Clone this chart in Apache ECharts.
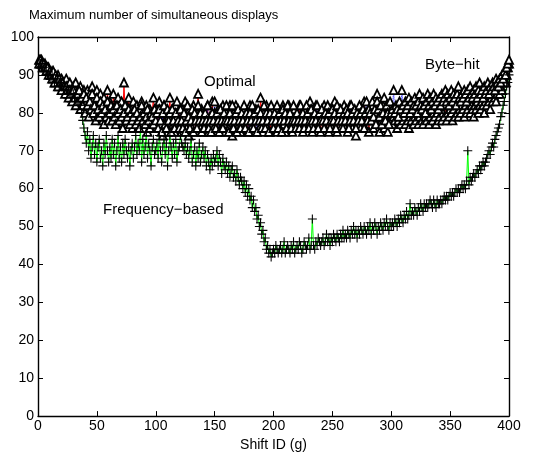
<!DOCTYPE html>
<html>
<head>
<meta charset="utf-8">
<script src="https://cdn.jsdelivr.net/npm/echarts@6/dist/echarts.min.js"></script>
<style>
html, body { margin: 0; padding: 0; background: #fff; }
#chart { width: 539px; height: 457px; }
</style>
</head>
<body>
<div id="chart"></div>
<script>
// shift ids 1..400, one value per shift in every series
var shiftIds = [];
for (var k = 1; k <= 400; k++) { shiftIds.push(k); }

var xTicks = [0, 400, 50];
var yTicks = [0, 100, 10];

var optimal = [
	94, 93, 94, 93, 92, 93, 92, 91, 92, 91, 90, 91, 89, 90, 88, 89, 90, 87, 88, 89,
	87, 88, 86, 89, 87, 85, 88, 86, 84, 87, 85, 88, 84, 86, 83, 87, 85, 82, 86, 84,
	83, 86, 81, 85, 83, 87, 80, 84, 82, 86, 79, 83, 85, 81, 78, 84, 82, 80, 86, 79,
	83, 81, 78, 85, 80, 82, 77, 84, 79, 81, 83, 78, 88, 80, 82, 77, 84, 79, 81, 76,
	83, 80, 78, 82, 76, 81, 79, 83, 77, 80, 78, 82, 75, 79, 81, 77, 80, 84, 78, 76,
	81, 76, 83, 77, 80, 74, 82, 78, 80, 75, 79, 84, 76, 81, 78, 75, 82, 79, 76, 81,
	78, 75, 81, 79, 83, 76, 78, 74, 81, 79, 76, 82, 78, 75, 80, 85, 77, 76, 81, 75,
	80, 76, 78, 82, 75, 79, 77, 83, 76, 80, 78, 75, 81, 78, 76, 80, 82, 77, 75, 80,
	78, 76, 82, 78, 74, 80, 77, 82, 76, 79, 78, 75, 80, 81, 76, 78, 80, 75, 78, 82,
	76, 80, 78, 75, 81, 78, 80, 76, 84, 78, 75, 80, 77, 82, 76, 79, 75, 78, 81, 76,
	80, 78, 75, 81, 78, 76, 80, 82, 77, 75, 80, 78, 82, 76, 78, 75, 80, 81, 77, 76,
	78, 82, 76, 80, 75, 78, 81, 78, 76, 80, 83, 77, 75, 80, 78, 82, 76, 79, 78, 75,
	80, 78, 82, 76, 80, 78, 75, 81, 79, 76, 78, 83, 79, 75, 78, 81, 76, 80, 78, 82,
	76, 80, 75, 78, 82, 78, 76, 80, 78, 74, 80, 81, 77, 76, 80, 78, 83, 76, 80, 78,
	75, 80, 78, 82, 76, 80, 78, 85, 77, 75, 80, 78, 82, 76, 80, 78, 75, 81, 78, 80,
	77, 79, 78, 80, 76, 78, 79, 77, 80, 78, 79, 77, 80, 78, 76, 79, 78, 80, 77, 79,
	78, 80, 77, 79, 81, 78, 77, 80, 79, 78, 80, 77, 79, 81, 78, 80, 79, 77, 80, 78,
	79, 81, 78, 80, 79, 82, 78, 80, 79, 81, 80, 78, 81, 79, 82, 80, 79, 81, 80, 82,
	81, 79, 82, 80, 81, 83, 80, 82, 81, 79, 82, 81, 83, 80, 82, 81, 83, 82, 80, 83,
	82, 84, 83, 81, 84, 83, 85, 84, 83, 85, 86, 85, 87, 86, 88, 89, 88, 90, 92, 93];

var byteHit = [
	93, 94, 93, 92, 93, 92, 91, 92, 90, 91, 90, 89, 91, 88, 90, 89, 87, 89, 88, 86,
	88, 87, 85, 87, 86, 84, 86, 85, 83, 86, 84, 82, 85, 83, 86, 81, 84, 82, 85, 80,
	84, 82, 79, 83, 81, 85, 80, 82, 78, 84, 81, 79, 83, 80, 82, 77, 81, 79, 83, 78,
	80, 82, 78, 81, 79, 77, 82, 80, 78, 81, 79, 76, 80, 82, 78, 79, 81, 77, 80, 78,
	79, 81, 77, 80, 78, 76, 79, 82, 78, 80, 77, 79, 81, 78, 76, 80, 79, 77, 81, 78,
	80, 76, 81, 78, 75, 80, 82, 77, 76, 81, 78, 80, 75, 81, 78, 76, 80, 83, 78, 76,
	81, 78, 76, 80, 75, 78, 82, 79, 76, 78, 81, 75, 80, 78, 76, 82, 78, 80, 75, 78,
	76, 80, 78, 82, 76, 78, 75, 80, 78, 83, 76, 80, 78, 75, 81, 78, 76, 80, 78, 82,
	78, 75, 80, 78, 82, 76, 78, 80, 75, 81, 78, 76, 80, 78, 82, 76, 80, 78, 75, 80,
	78, 82, 76, 80, 78, 75, 81, 78, 80, 76, 78, 82, 76, 80, 78, 75, 80, 82, 78, 76,
	80, 78, 82, 76, 80, 78, 75, 81, 78, 80, 76, 82, 78, 80, 76, 78, 82, 78, 76, 80,
	78, 76, 82, 78, 80, 76, 78, 82, 80, 76, 78, 81, 78, 76, 80, 78, 82, 76, 80, 78,
	81, 78, 76, 80, 78, 82, 80, 76, 78, 81, 78, 80, 76, 82, 78, 80, 81, 78, 76, 80,
	78, 81, 80, 76, 78, 82, 80, 78, 81, 76, 80, 78, 82, 80, 78, 81, 76, 80, 83, 78,
	81, 80, 78, 83, 79, 81, 77, 83, 81, 79, 82, 77, 80, 84, 78, 82, 80, 77, 83, 80,
	81, 86, 80, 82, 81, 79, 83, 81, 86, 82, 80, 83, 81, 82, 84, 80, 83, 81, 82, 84,
	82, 80, 83, 85, 82, 81, 84, 82, 80, 83, 85, 82, 84, 81, 83, 85, 82, 84, 83, 81,
	84, 82, 85, 83, 84, 86, 83, 85, 82, 84, 86, 83, 85, 84, 82, 85, 87, 84, 83, 85,
	84, 86, 85, 83, 86, 84, 87, 85, 84, 86, 85, 87, 84, 86, 88, 85, 86, 84, 87, 85,
	86, 88, 85, 87, 86, 88, 87, 86, 89, 88, 87, 89, 88, 90, 89, 91, 90, 92, 93, 94];

var freqBased = [
	93, 93, 92, 92, 92, 91, 91, 90, 90, 90, 89, 90, 89, 88, 89, 88, 88, 87, 88, 87,
	87, 86, 87, 86, 85, 86, 85, 85, 84, 85, 84, 84, 83, 83, 82, 82, 80, 78, 76, 74,
	72, 75, 70, 73, 68, 71, 74, 69, 72, 67, 71, 73, 68, 70, 66, 72, 69, 74, 70, 67,
	71, 68, 73, 69, 72, 66, 70, 74, 68, 71, 67, 72, 69, 73, 70, 68, 71, 66, 70, 72,
	68, 71, 74, 69, 72, 70, 76, 67, 73, 69, 71, 75, 68, 72, 70, 66, 71, 73, 69, 70,
	72, 68, 74, 70, 67, 71, 73, 69, 72, 66, 70, 74, 71, 68, 72, 69, 73, 67, 70, 71,
	74, 72, 71, 70, 72, 69, 71, 68, 70, 73, 67, 69, 71, 66, 70, 68, 72, 67, 69, 71,
	68, 70, 66, 69, 67, 65, 68, 66, 69, 67, 68, 70, 66, 69, 67, 64, 68, 66, 65, 67,
	64, 66, 63, 65, 66, 63, 64, 62, 65, 63, 61, 63, 62, 60, 62, 59, 61, 58, 60, 57,
	58, 55, 57, 54, 55, 52, 53, 50, 51, 48, 49, 46, 47, 44, 45, 43, 44, 42, 43, 44,
	43, 45, 44, 43, 44, 45, 43, 44, 46, 43, 44, 45, 44, 43, 45, 44, 46, 43, 44, 45,
	44, 46, 45, 43, 44, 46, 45, 44, 45, 47, 44, 45, 52, 45, 44, 46, 45, 47, 46, 45,
	46, 47, 45, 46, 48, 46, 47, 45, 47, 46, 48, 47, 46, 48, 47, 46, 48, 47, 49, 47,
	48, 47, 49, 48, 47, 49, 48, 50, 48, 49, 47, 49, 48, 50, 49, 48, 50, 49, 48, 50,
	49, 51, 48, 50, 49, 51, 50, 48, 50, 49, 51, 50, 49, 51, 50, 52, 50, 49, 51, 50,
	51, 50, 52, 51, 50, 52, 51, 53, 52, 51, 53, 52, 54, 52, 53, 56, 53, 54, 53, 55,
	54, 53, 55, 54, 56, 55, 54, 56, 55, 56, 55, 56, 57, 56, 55, 57, 56, 55, 57, 56,
	56, 57, 56, 57, 58, 57, 58, 57, 58, 59, 58, 59, 58, 59, 60, 59, 60, 59, 60, 61,
	60, 61, 60, 62, 70, 61, 63, 62, 63, 64, 63, 64, 65, 64, 66, 65, 66, 67, 66, 67,
	68, 69, 70, 69, 71, 72, 71, 73, 74, 75, 76, 77, 79, 80, 82, 83, 85, 87, 88, 90];

var labels = [
	{ text: 'Optimal', x: 204, y: 83 },
	{ text: 'Byte\u2212hit', x: 425, y: 66 },
	{ text: 'Frequency\u2212based', x: 103, y: 211 }
];

var font = 'Liberation Sans';

function pairs(vals) {
	var out = [];
	for (var i = 0; i < vals.length; i++) {
		out.push([shiftIds[i], vals[i]]);
	}
	return out;
}

function frameAxis(pos, range, showLabel) {
	return {
		type: 'value',
		position: pos,
		min: range[0],
		max: range[1],
		interval: range[2],
		splitLine: { show: false },
		axisLine: { show: true, onZero: false, lineStyle: { color: '#000', width: 1.4 } },
		axisTick: { show: true, inside: true, length: 5, lineStyle: { color: '#000' } },
		axisLabel: { show: showLabel, color: '#000', fontSize: 14, fontFamily: font, margin: 4 }
	};
}

var triangleStyle = { color: '#fff', borderColor: '#000', borderWidth: 1.8 };
var plusPath = 'path://M4.4,0H5.6V4.4H10V5.6H5.6V10H4.4V5.6H0V4.4H4.4Z';

var xBottom = frameAxis('bottom', xTicks, true);
xBottom.axisLabel.margin = 3;
xBottom.name = 'Shift ID (g)';
xBottom.nameLocation = 'middle';
xBottom.nameGap = 20;
xBottom.nameTextStyle = { color: '#000', fontSize: 14, fontFamily: font };

var texts = [{
	type: 'text',
	left: 29,
	top: 9,
	style: { text: 'Maximum number of simultaneous displays', fill: '#000', fontSize: 13, fontFamily: font }
}];
labels.forEach(function(l) {
	texts.push({
		type: 'text',
		left: l.x,
		top: l.y - 9,
		style: { text: l.text, fill: '#000', fontSize: 15, fontFamily: font }
	});
});

var option = {
	animation: false,
	backgroundColor: '#fff',
	grid: { left: 38, right: 30, top: 37, bottom: 37 },
	xAxis: [xBottom, frameAxis('top', xTicks, false)],
	yAxis: [frameAxis('left', yTicks, true), frameAxis('right', yTicks, false)],
	series: [{
		name: 'Optimal',
		type: 'line',
		data: pairs(optimal),
		showAllSymbol: true,
		symbol: 'triangle',
		symbolSize: 8,
		lineStyle: { color: '#ff0000', width: 1 },
		itemStyle: triangleStyle
	}, {
		name: 'Byte-hit',
		type: 'line',
		data: pairs(byteHit),
		showAllSymbol: true,
		symbol: 'triangle',
		symbolSize: 8,
		lineStyle: { color: '#0000ff', width: 1, type: 'dotted' },
		itemStyle: triangleStyle
	}, {
		name: 'Frequency-based',
		type: 'line',
		data: pairs(freqBased),
		showAllSymbol: true,
		symbol: plusPath,
		symbolSize: 9,
		lineStyle: { color: '#00ff00', width: 1 },
		itemStyle: { color: '#000' }
	}],
	graphic: texts
};

var chart = echarts.init(document.getElementById('chart'), null, { renderer: 'canvas' });
chart.setOption(option);
</script>
</body>
</html>
